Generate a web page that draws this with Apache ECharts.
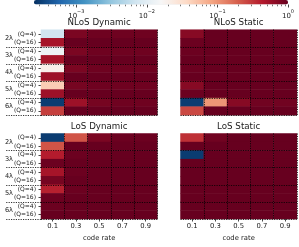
<!DOCTYPE html>
<html><head><meta charset="utf-8">
<script src="https://cdn.jsdelivr.net/npm/echarts@6/dist/echarts.min.js"></script>
<style>html,body{margin:0;padding:0;background:#fff}#c{width:299px;height:247px}</style>
</head><body><div id="c"></div>
<script>
// ---- data ----
const codeRates = ['0.1', '0.3', '0.5', '0.7', '0.9'];
const lambdas = ['2λ', '3λ', '4λ', '5λ', '6λ'];
const rowLabels = ['(Q=4)', '(Q=16)', '(Q=4)', '(Q=16)', '(Q=4)', '(Q=16)', '(Q=4)', '(Q=16)', '(Q=4)', '(Q=16)'];
const colorbarTicks = [-3, -2, -1, 0];
const colorbarMinLog = -3.6;
const colorbarMaxLog = 0;

// rows: 2λ(Q=4), 2λ(Q=16), 3λ(Q=4), ... 6λ(Q=16); columns: code rates
const nlosDynamic = [
  [0.007, 0.80, 0.92, 0.92, 0.92],
  [0.50, 1.00, 1.00, 1.00, 1.00],
  [0.013, 0.80, 0.92, 0.92, 0.92],
  [0.50, 1.00, 1.00, 1.00, 1.00],
  [0.020, 0.80, 0.92, 0.92, 0.92],
  [0.55, 1.00, 1.00, 1.00, 1.00],
  [0.045, 0.85, 0.92, 0.92, 0.92],
  [0.55, 1.00, 1.00, 1.00, 1.00],
  [0.0003, 0.55, 0.85, 0.92, 0.92],
  [0.28, 1.00, 1.00, 1.00, 1.00]
];
const nlosStatic = [
  [0.70, 1.00, 1.00, 1.00, 1.00],
  [0.95, 1.00, 1.00, 1.00, 1.00],
  [0.95, 1.00, 1.00, 1.00, 1.00],
  [1.00, 1.00, 1.00, 1.00, 1.00],
  [0.95, 1.00, 1.00, 1.00, 1.00],
  [1.00, 1.00, 1.00, 1.00, 1.00],
  [0.70, 1.00, 1.00, 1.00, 1.00],
  [0.95, 1.00, 1.00, 1.00, 1.00],
  [0.0003, 0.10, 0.70, 0.90, 0.90],
  [0.25, 1.00, 1.00, 1.00, 1.00]
];
const losDynamic = [
  [0.0003, 0.22, 0.80, 0.95, 0.95],
  [0.22, 1.00, 1.00, 1.00, 1.00],
  [0.42, 0.95, 1.00, 1.00, 1.00],
  [0.95, 1.00, 1.00, 1.00, 1.00],
  [0.50, 0.95, 1.00, 1.00, 1.00],
  [0.85, 1.00, 1.00, 1.00, 1.00],
  [0.40, 0.95, 1.00, 1.00, 1.00],
  [0.95, 1.00, 1.00, 1.00, 1.00],
  [0.95, 1.00, 1.00, 1.00, 1.00],
  [1.00, 1.00, 1.00, 1.00, 1.00]
];
const losStatic = [
  [0.33, 0.90, 1.00, 1.00, 1.00],
  [1.00, 1.00, 1.00, 1.00, 1.00],
  [0.0003, 1.00, 1.00, 1.00, 1.00],
  [1.00, 1.00, 1.00, 1.00, 1.00],
  [1.00, 1.00, 1.00, 1.00, 1.00],
  [1.00, 1.00, 1.00, 1.00, 1.00],
  [1.00, 1.00, 1.00, 1.00, 1.00],
  [1.00, 1.00, 1.00, 1.00, 1.00],
  [1.00, 1.00, 1.00, 1.00, 1.00],
  [1.00, 1.00, 1.00, 1.00, 1.00]
];

// ---- styling / layout ----
const FONT = 'DejaVu Sans';
const TXT = '#1a1a1a';
const RdBu_r = ['#053061','#2166ac','#4393c3','#92c5de','#d1e5f0','#f7f7f7','#fddbc7','#f4a582','#d6604d','#b2182b','#67001f'];
const W = 116.3, H = 85.5;
const panels = [
  {name: 'NLoS Dynamic', values: nlosDynamic, left: 41, top: 29.7, yLab: true, xLab: false},
  {name: 'NLoS Static', values: nlosStatic, left: 180.5, top: 29.7, yLab: false, xLab: false},
  {name: 'LoS Dynamic', values: losDynamic, left: 41, top: 133.5, yLab: true, xLab: true},
  {name: 'LoS Static', values: losStatic, left: 180.5, top: 133.5, yLab: false, xLab: true}
];
const dotted = {color: '#000', width: 0.8, type: [1.2, 1.2]};

const grid = [], xAxis = [], yAxis = [], series = [];
panels.forEach((p, i) => {
  grid.push({left: p.left, top: p.top, width: W, height: H, containLabel: false});
  xAxis.push({
    gridIndex: i, type: 'category', data: codeRates, position: 'bottom', z: 5,
    axisLine: {show: false},
    axisTick: {show: p.xLab, alignWithLabel: true, interval: 0, length: 2.5, lineStyle: {color: TXT, width: 0.8}},
    axisLabel: {show: p.xLab, interval: 0, fontSize: 6.8, color: TXT, fontFamily: FONT, margin: 4},
    name: p.xLab ? 'code rate' : '', nameLocation: 'middle', nameGap: 15.5,
    nameTextStyle: {fontSize: 6.8, color: TXT, fontFamily: FONT},
    splitLine: {show: true, interval: (idx) => idx > 0, lineStyle: dotted}
  });
  xAxis.push({
    gridIndex: i, type: 'category', data: codeRates, position: 'top',
    axisLine: {show: false}, axisTick: {show: false}, axisLabel: {show: false}, splitLine: {show: false},
    name: p.name, nameLocation: 'middle', nameGap: 2,
    nameTextStyle: {fontSize: 8.7, color: TXT, fontFamily: FONT}
  });
  yAxis.push({
    gridIndex: i, type: 'category', data: rowLabels, inverse: true, position: 'left',
    axisLine: {show: false},
    axisTick: {show: p.yLab, alignWithLabel: true, interval: 0, length: 2.5, lineStyle: {color: TXT, width: 0.8}},
    axisLabel: {show: p.yLab, interval: 0, fontSize: 6, color: TXT, fontFamily: FONT, margin: 5},
    splitLine: {show: false}
  });
  yAxis.push({
    gridIndex: i, type: 'category', data: lambdas, inverse: true, position: 'left', z: 5,
    axisLine: {show: false},
    axisTick: {show: p.yLab, interval: (idx) => idx > 0, length: 36, lineStyle: dotted},
    axisLabel: {show: p.yLab, interval: 0, fontSize: 6.6, color: TXT, fontFamily: FONT, margin: 28, padding: [0, 0, 4, 0]},
    splitLine: {show: true, interval: (idx) => idx > 0, lineStyle: dotted}
  });
  const data = [];
  p.values.forEach((row, r) => row.forEach((v, c) => data.push([c, r, Math.log10(v)])));
  series.push({
    type: 'heatmap', xAxisIndex: 2 * i, yAxisIndex: 2 * i, data: data,
    itemStyle: {borderWidth: 0}, emphasis: {disabled: true}, silent: true
  });
});

// colorbar axis (ticks + labels) sits under the visualMap bar
const minorTicks = [];
for (let e = -4; e <= -1; e++) for (let k = 2; k <= 9; k++) {
  const v = Math.log10(k) + e;
  if (v > colorbarMinLog && v < colorbarMaxLog) minorTicks.push(v);
}
const cbLeft = 34, cbLen = 254, cbThick = 4.5;
grid.push({left: cbLeft, top: 0, width: cbLen, height: cbThick, containLabel: false});
const cbGrid = grid.length - 1;
xAxis.push({
  gridIndex: cbGrid, type: 'value', min: colorbarMinLog, max: colorbarMaxLog, position: 'bottom',
  axisLine: {show: false}, splitLine: {show: false},
  axisTick: {show: true, customValues: colorbarTicks, length: 3, lineStyle: {color: TXT, width: 0.8}},
  axisLabel: {
    show: true, customValues: colorbarTicks, margin: 5, color: TXT, fontFamily: FONT,
    formatter: (v) => '{b|10}{s|' + (v < 0 ? '\u2212' + (-v) : String(v)) + '}',
    rich: {
      b: {fontSize: 7, fontFamily: FONT, color: TXT, verticalAlign: 'bottom', lineHeight: 10},
      s: {fontSize: 5, fontFamily: FONT, color: TXT, verticalAlign: 'top', lineHeight: 10}
    }
  }
});
xAxis.push({
  gridIndex: cbGrid, type: 'value', min: colorbarMinLog, max: colorbarMaxLog, position: 'bottom',
  axisLine: {show: false}, splitLine: {show: false}, axisLabel: {show: false},
  axisTick: {show: true, customValues: minorTicks, length: 1.8, lineStyle: {color: TXT, width: 0.6}}
});
yAxis.push({gridIndex: cbGrid, type: 'value', show: false});

const option = {
  animation: false,
  backgroundColor: '#fff',
  grid, xAxis, yAxis, series,
  visualMap: {
    type: 'continuous', min: colorbarMinLog, max: colorbarMaxLog, dimension: 2,
    seriesIndex: [0, 1, 2, 3], orient: 'horizontal', left: cbLeft, top: 0,
    itemWidth: cbThick, itemHeight: cbLen, calculable: false, padding: 0,
    hoverLink: false, showLabel: false,
    inRange: {color: RdBu_r}
  }
};
const chart = echarts.init(document.getElementById('c'), null, {renderer: 'canvas'});
chart.setOption(option);
</script></body></html>
